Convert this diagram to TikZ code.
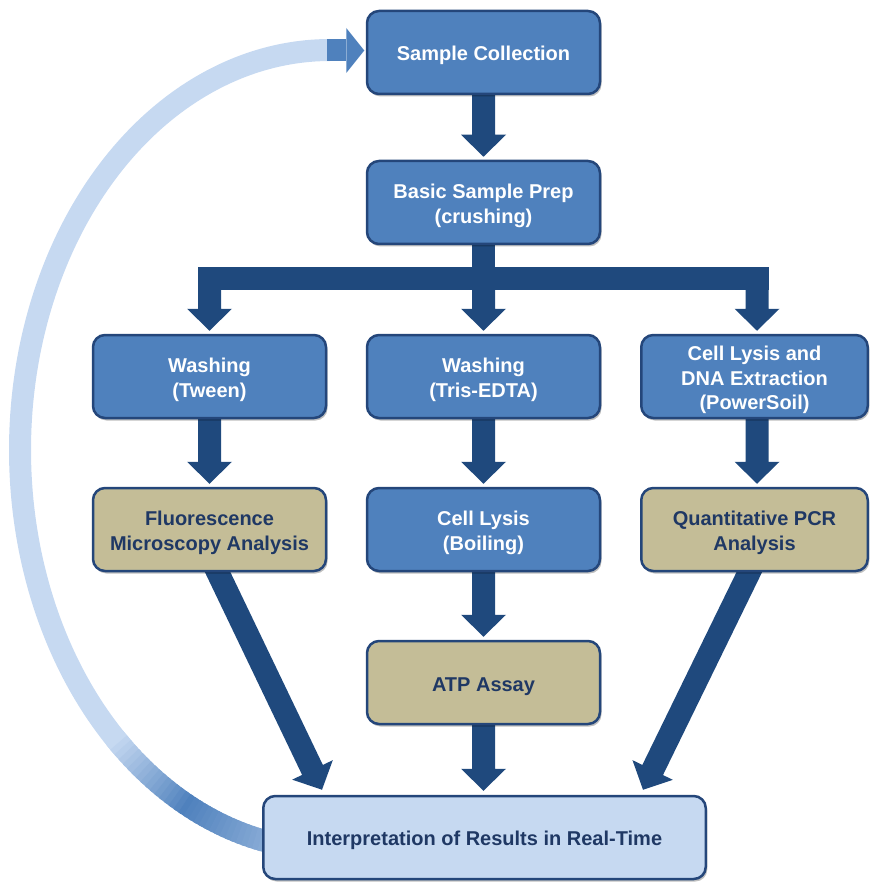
\documentclass[tikz,border=0pt]{standalone}
\usepackage{fontspec}
\setmainfont{Liberation Sans}
\usetikzlibrary{calc,shadows}
\definecolor{boxblue}{HTML}{4F81BD}
\definecolor{boxline}{HTML}{24467A}
\definecolor{arrowc}{HTML}{1F497D}
\definecolor{tanfill}{HTML}{C4BD97}
\definecolor{navytext}{HTML}{1F3864}
\definecolor{paleblue}{HTML}{C6D9F1}
\pgfdeclarelayer{bg}
\pgfsetlayers{bg,main}
\newcommand\mytopstrut{\rule{0pt}{21.5pt}}
\newcommand\mysinglestrut{\rule{0pt}{19.5pt}}
\newcommand\blockarrow[2]{%
  \path ($(#2)!22pt!(#1)$) coordinate (ah);
  \fill[arrowc] ($(#1)!11.5pt!90:(#2)$) -- ($(ah)!11.5pt!90:(#2)$) -- ($(ah)!22.5pt!90:(#2)$) -- (#2)
    -- ($(ah)!22.5pt!-90:(#2)$) -- ($(ah)!11.5pt!-90:(#2)$) -- ($(#1)!11.5pt!-90:(#2)$) -- cycle;}
\tikzset{
  box/.style={rounded corners=12pt, line width=2.5pt, draw=boxline,
    minimum height=83pt, minimum width=233pt, align=center, inner sep=0pt,
    font=\fontsize{20}{24.5}\selectfont\bfseries,
    drop shadow={shadow xshift=1.5pt, shadow yshift=-2.5pt, opacity=0.25, fill=black}},
  bluebox/.style={box, fill=boxblue, text=white},
  tanbox/.style={box, fill=tanfill, text=navytext},
  resbox/.style={box, fill=paleblue, text=navytext, minimum width=442.5pt},
  band/.style={line width=22pt},
}
\begin{document}
\begin{tikzpicture}[x=1pt,y=1pt]
\useasboundingbox (0,0) rectangle (870,-882);

% boxes
\node[bluebox] (sc) at (483.5,-52.5) {\mysinglestrut Sample Collection};
\node[bluebox] (prep) at (483.5,-202.5) {\mytopstrut Basic Sample Prep\\(crushing)};
\node[bluebox] (wash1) at (209.5,-376.5) {\mytopstrut Washing\\(Tween)};
\node[bluebox] (wash2) at (483.5,-376.5) {\mytopstrut Washing\\(Tris-EDTA)};
\node[bluebox, minimum width=226.5pt] (lysis) at (754.5,-376.5) {\mytopstrut Cell Lysis and\\DNA Extraction\\(PowerSoil)};
\node[tanbox] (fluor) at (209.5,-529.5) {\mytopstrut Fluorescence\\Microscopy Analysis};
\node[bluebox] (boil) at (483.5,-529.5) {\mytopstrut Cell Lysis\\(Boiling)};
\node[tanbox, minimum width=226.5pt] (qpcr) at (754.5,-529.5) {\mytopstrut Quantitative PCR\\Analysis};
\node[tanbox] (atp) at (483.5,-682.5) {\rule{0pt}{23pt}ATP Assay};
\node[resbox] (interp) at (484.5,-837.5) {\mysinglestrut Interpretation of Results in Real-Time};

\begin{pgfonlayer}{bg}
% feedback loop from interp back to sample collection
\draw[band, paleblue] plot[domain=90:228, samples=90, smooth] ({330+310*cos(\x)},{-450+400*sin(\x)});
\foreach \a in {226,227,...,262}{
  \pgfmathsetmacro\p{\a<242 ? (\a-226)*6.25 : 100-(\a-242)*3.1}
  \draw[band, boxblue!\p!paleblue] ({330+310*cos(\a)},{-450+400*sin(\a)}) -- ({330+310*cos(\a+1.6)},{-450+400*sin(\a+1.6)});
}
\coordinate (fbtip) at ($(sc.west)+(-1.5,2)$);
\fill[boxblue] ($(fbtip)+(-37,11)$) rectangle ($(fbtip)+(-18,-11)$);
\fill[boxblue] ($(fbtip)+(-18,22.5)$) -- (fbtip) -- ($(fbtip)+(-18,-22.5)$) -- cycle;

% sample collection -> prep
\path ($(sc.south)+(0,4)$) coordinate (s1) ($(prep.north)+(0,3)$) coordinate (t1);
\blockarrow{s1}{t1}

% branching arrow
\fill[arrowc] ($(prep.south)+(-11.5,4)$) rectangle ($(prep.south)+(11.5,-30)$);
\fill[arrowc] ($(wash1.center |- prep.south)+(-11.5,-22)$) rectangle ($(lysis.center |- prep.south)+(14,-45)$);
\path ($(wash1.center |- prep.south)+(0,-33.5)$) coordinate (s2) ($(wash1.north)+(0,3)$) coordinate (t2);
\blockarrow{s2}{t2}
\path ($(wash2.center |- prep.south)+(0,-33.5)$) coordinate (s3) ($(wash2.north)+(0,3)$) coordinate (t3);
\blockarrow{s3}{t3}
\path ($(lysis.center |- prep.south)+(2.5,-33.5)$) coordinate (s4) ($(lysis.north)+(2.5,3)$) coordinate (t4);
\blockarrow{s4}{t4}

% second row -> third row
\path ($(wash1.south)+(0,4)$) coordinate (s5) ($(fluor.north)+(0,3)$) coordinate (t5);
\blockarrow{s5}{t5}
\path ($(wash2.south)+(0,4)$) coordinate (s6) ($(boil.north)+(0,3)$) coordinate (t6);
\blockarrow{s6}{t6}
\path ($(lysis.south)+(2.5,4)$) coordinate (s7) ($(qpcr.north)+(2.5,3)$) coordinate (t7);
\blockarrow{s7}{t7}

% boil -> atp, atp -> interp
\path ($(boil.south)+(0,4)$) coordinate (s8) ($(atp.north)+(0,3)$) coordinate (t8);
\blockarrow{s8}{t8}
\path ($(atp.south)+(0,4)$) coordinate (s9) ($(interp.north)+(-1,4)$) coordinate (t9);
\blockarrow{s9}{t9}

% diagonals
\path ($(fluor.south)+(4.2,8.3)$) coordinate (s10) ($(interp.north west)+(60,5)$) coordinate (t10);
\blockarrow{s10}{t10}
\path ($(qpcr.south)+(-1.2,8.3)$) coordinate (s11) ($(interp.north east)+(-64,5)$) coordinate (t11);
\blockarrow{s11}{t11}
\end{pgfonlayer}
\end{tikzpicture}
\end{document}
